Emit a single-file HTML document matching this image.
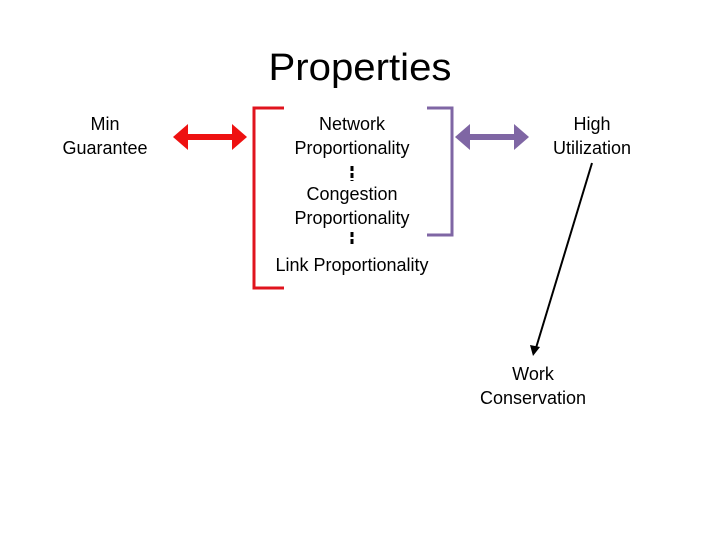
<!DOCTYPE html>
<html><head><meta charset="utf-8"><style>
html,body{margin:0;padding:0;background:#fff;}
svg{display:block;}
text{font-family:"Liberation Sans",Arial,sans-serif;font-size:18px;fill:#000;text-anchor:middle;}
</style></head><body>
<svg width="720" height="540" viewBox="0 0 720 540" xmlns="http://www.w3.org/2000/svg">
<text x="360" y="80" style="font-size:38px" textLength="183" lengthAdjust="spacingAndGlyphs">Properties</text>
<text x="105" y="130">Min</text>
<text x="105" y="154">Guarantee</text>
<text x="352" y="130">Network</text>
<text x="352" y="154">Proportionality</text>
<text x="352" y="200">Congestion</text>
<text x="352" y="224">Proportionality</text>
<text x="352" y="271">Link Proportionality</text>
<text x="592" y="130">High</text>
<text x="592" y="154">Utilization</text>
<text x="533" y="380">Work</text>
<text x="533" y="404">Conservation</text>
<!-- red bracket -->
<path d="M284 108 H254 V288 H284" fill="none" stroke="#e0141e" stroke-width="3"/>
<!-- purple bracket -->
<path d="M427 108 H452 V235 H427" fill="none" stroke="#7f66a4" stroke-width="3"/>
<!-- red double arrow -->
<line x1="186" y1="137" x2="234" y2="137" stroke="#ee1111" stroke-width="6"/>
<polygon points="173,137 188,124 188,150" fill="#ee1111"/>
<polygon points="247,137 232,124 232,150" fill="#ee1111"/>
<!-- purple double arrow -->
<line x1="468" y1="137" x2="516" y2="137" stroke="#7f66a4" stroke-width="6"/>
<polygon points="455,137 470,124 470,150" fill="#7f66a4"/>
<polygon points="529,137 514,124 514,150" fill="#7f66a4"/>
<!-- dashes -->
<line x1="352" y1="166" x2="352" y2="181" stroke="#000" stroke-width="3" stroke-dasharray="5,2"/>
<line x1="352" y1="232" x2="352" y2="246" stroke="#000" stroke-width="3" stroke-dasharray="5,2"/>
<!-- black arrow -->
<line x1="592" y1="163" x2="536" y2="348" stroke="#000" stroke-width="2"/>
<polygon points="533,356 530,345 540,347" fill="#000"/>
</svg>
</body></html>
